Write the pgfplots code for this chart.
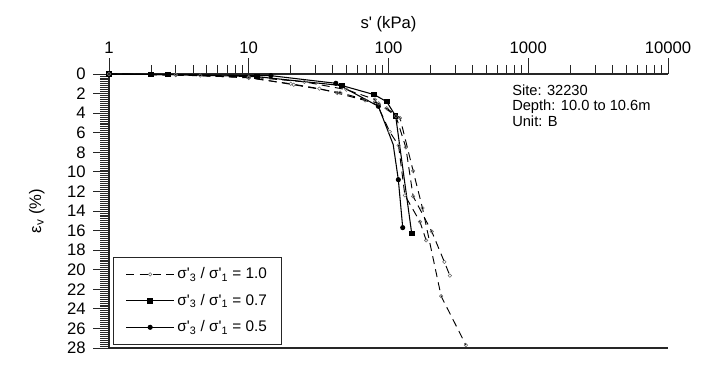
\documentclass[border=0pt]{standalone}
\usepackage{fontspec}
\setmainfont{Liberation Sans}[Ligatures=TeXOff]
\usepackage{pgfplots}
\pgfplotsset{compat=1.18}
\usetikzlibrary{calc}

% s' (kPa) vs vertical strain (%)
% sigma'3/sigma'1 = 1.0 (three tests)
\pgfplotstableread{
x y
1 0
2 0.05
4.5 0.15
10 0.4
20 1.0
32 1.5
43 1.95
68 2.7
97 3.5
121 4.5
150 9.9
175 13.7
238 22.7
358 27.7
}\kzeroA
\pgfplotstableread{
x y
1 0
3 0.1
10 0.35
21 1.1
45 1.9
85 3.0
113 4.3
133 7.5
150 12.5
204 16.1
251 19.2
275 20.6
}\kzeroB
\pgfplotstableread{
x y
1 0
3 0.1
10 0.3
25 0.8
50 1.6
80 2.6
102 5.9
118 7.3
131 12.4
168 15.1
186 17.0
}\kzeroC
% sigma'3/sigma'1 = 0.7
\pgfplotstableread{
x y
1 0
2 0.05
2.65 0.05
11.4 0.27
46.7 1.19
79.1 2.11
97.1 2.83
112.5 4.29
146.6 16.3
}\kseven
% sigma'3/sigma'1 = 0.5
\pgfplotstableread{
x y
1 0
14.4 0.17
42 0.95
84.6 3.3
108 7.2
117.6 10.8
126.4 15.7
}\kfive

\begin{document}
\begin{tikzpicture}
\begin{axis}[
    scale only axis,
    width=419.25pt, height=205.5pt,
    xmode=log, xmin=1, xmax=10000,
    ymin=0, ymax=28, y dir=reverse,
    axis x line*=top, axis y line*=left,
    axis line style={-, line width=0.8pt, black!85},
    xtick={1,10,100,1000,10000},
    xticklabels={1,10,100,1000,10000},
    minor xtick={2,3,4,5,6,7,8,9,20,30,40,50,60,70,80,90,200,300,400,500,600,700,800,900,2000,3000,4000,5000,6000,7000,8000,9000},
    ytick={0,2,...,28},
    minor y tick num=9,
    tick align=outside,
    major tick length=12pt, minor tick length=6.5pt,
    tick style={black!85, line width=0.6pt},
    tick label style={font=\fontsize{12.5}{14}\selectfont},
    yticklabel style={xshift=-2pt},
    label style={font=\fontsize{12.5}{14}\selectfont},
    /pgf/number format/assume math mode=true,
    xlabel={s' (kPa)},
    ylabel={ε\textsubscript{v} (\%)},
    ylabel style={at={(axis description cs:-0.129,0.5)}, anchor=center},
    legend cell align=left,
    legend style={at={(axis cs:1.07,27.7)}, anchor=south west,
        draw=black!85, line width=0.8pt, font=\fontsize{11.5}{13}\selectfont,
        inner xsep=9pt, inner ysep=6pt, row sep=6pt,
        /tikz/every even column/.append style={column sep=4pt}},
    legend image code/.code={\draw[#1, mark indices={2}]
        plot coordinates {(0pt,0pt) (18pt,0pt) (36pt,0pt)};},
    clip=false,
]
\addplot[black, line width=0.7pt, dash pattern=on 6pt off 4pt,
    mark=o, mark size=1.3pt, mark options={solid, black!60, line width=0.4pt}]
    table[x=x, y=y] {\kzeroA};
\addlegendentry{σ'\textsubscript{3} / σ'\textsubscript{1} = 1.0}
\addplot[black, line width=0.8pt, mark=square*, mark size=1.7pt]
    table[x=x, y=y] {\kseven};
\addlegendentry{σ'\textsubscript{3} / σ'\textsubscript{1} = 0.7}
\addplot[black, line width=0.8pt, mark=*, mark size=1.5pt,
    mark indices={1,2,3,4,6,7}]
    table[x=x, y=y] {\kfive};
\addlegendentry{σ'\textsubscript{3} / σ'\textsubscript{1} = 0.5}
\addplot[forget plot, black, line width=0.7pt, dash pattern=on 6pt off 4pt,
    mark=o, mark size=1.3pt, mark options={solid, black!60, line width=0.4pt}]
    table[x=x, y=y] {\kzeroB};
\addplot[forget plot, black, line width=0.7pt, dash pattern=on 6pt off 4pt,
    mark=o, mark size=1.3pt, mark options={solid, black!60, line width=0.4pt}]
    table[x=x, y=y] {\kzeroC};
\draw[line width=0.8pt, black!85] (axis cs:1,28) -- (axis cs:10000,28);
\node[anchor=north west, align=left, inner sep=0pt,
    font=\fontsize{11}{11.5}\selectfont] at (axis cs:765,1.1)
    {Site: 32230\\Depth: 10.0 to 10.6m\\Unit: B};
\end{axis}
\pgfresetboundingbox
\useasboundingbox ($(current axis.south west)+(-81.75pt,-24.75pt)$)
    rectangle ($(current axis.north east)+(43.5pt,55.5pt)$);
\end{tikzpicture}
\end{document}
